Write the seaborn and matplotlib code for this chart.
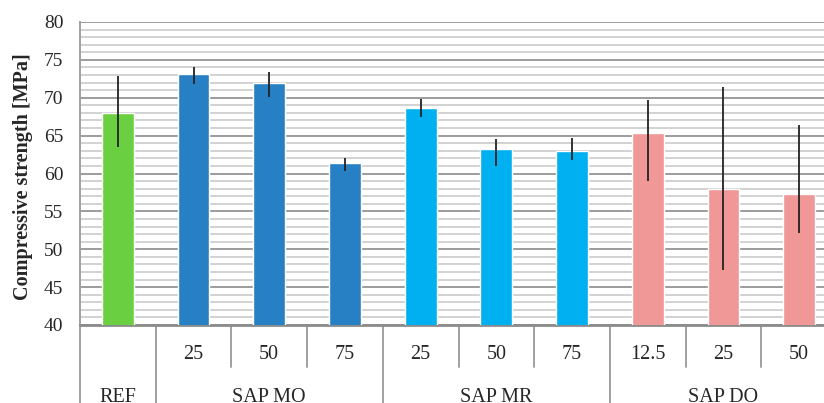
import numpy as np
import pandas as pd
import matplotlib
matplotlib.use("Agg")
import matplotlib.pyplot as plt
import matplotlib.transforms as mtransforms
import seaborn as sns

# --- datos ---
grupos = ["REF", "SAP MO", "SAP MO", "SAP MO", "SAP MR", "SAP MR", "SAP MR",
          "SAP DO", "SAP DO", "SAP DO"]
dosis = ["", "25", "50", "75", "25", "50", "75", "12.5", "25", "50"]
resistencia = [68.0, 73.1, 72.0, 61.35, 68.7, 63.2, 63.0, 65.3, 58.0, 57.25]
err_abajo = [4.5, 1.3, 1.9, 1.05, 1.3, 2.2, 1.2, 6.3, 10.8, 5.05]
err_arriba = [4.9, 1.0, 1.4, 0.7, 1.2, 1.4, 1.7, 4.4, 13.4, 9.15]
colores = ["#6BCF42", "#2780C3", "#2780C3", "#2780C3", "#00B0F0", "#00B0F0",
           "#00B0F0", "#F09797", "#F09797", "#F09797"]

claves = [f"{g} {d}".strip() for g, d in zip(grupos, dosis)]
df = pd.DataFrame({"clave": claves, "valor": resistencia})

sns.set_style("white")
plt.rcParams["font.family"] = ["Liberation Serif", "DejaVu Serif"]

fig = plt.figure(figsize=(8.24, 4.03), dpi=100)
ax = fig.add_axes([80 / 824, 78 / 403, 757 / 824, 303 / 403])

sns.barplot(data=df, x="clave", y="valor", hue="clave", palette=colores,
            legend=False, width=0.42, saturation=1, ax=ax, zorder=3)
ax.errorbar(np.arange(len(claves)), resistencia, yerr=[err_abajo, err_arriba],
            fmt="none", ecolor="#222222", elinewidth=1.3, capsize=0, zorder=4)

ax.set_ylim(40, 80)
ax.set_xlim(-0.5, len(claves) - 0.5)
ax.set_yticks(range(40, 81, 5))
ax.set_yticks(range(40, 81, 1), minor=True)
ax.grid(axis="y", which="major", color="#9C9C9C", linewidth=1.4, zorder=0)
ax.grid(axis="y", which="minor", color="#D2D2D2", linewidth=1.4, zorder=0)
ax.set_axisbelow(True)
ax.tick_params(axis="y", which="major", length=6, width=1.2, color="#8C8C8C",
               labelsize=14, pad=6)
ax.tick_params(axis="y", which="minor", length=0)
ax.tick_params(axis="x", length=0, labelbottom=False)
ax.set_xlabel("")
ax.set_ylabel("Compressive strength [MPa]", fontsize=14.5, fontweight="bold")
ax.yaxis.set_label_coords(-0.062, 0.49)

for lado in ["top", "right"]:
    ax.spines[lado].set_visible(False)
ax.spines["bottom"].set_color("#8C8C8C")
ax.spines["bottom"].set_linewidth(2)
ax.spines["left"].set_color("#A0A0A0")
ax.spines["left"].set_linewidth(1.4)

# --- eje de categorias en dos niveles ---
trans = mtransforms.blended_transform_factory(ax.transData, ax.transAxes)
n = len(claves)
for i in range(n + 1):
    x = i - 0.5
    largo = i == 0 or i == n or grupos[i] != grupos[i - 1]
    y_fin = -0.30 if largo else -0.139
    ax.plot([x, x], [0, y_fin], transform=trans, color="#A0A0A0",
            linewidth=1.4, clip_on=False)

for i, d in enumerate(dosis):
    if d:
        ax.text(i, -0.096, d, transform=trans, ha="center", va="center",
                fontsize=14.5)

inicio = 0
for i in range(1, n + 1):
    if i == n or grupos[i] != grupos[inicio]:
        centro = (inicio + i - 1) / 2
        ax.text(centro, -0.238, grupos[inicio], transform=trans, ha="center",
                va="center", fontsize=14.5)
        inicio = i

fig.savefig("out.png", dpi=100)
